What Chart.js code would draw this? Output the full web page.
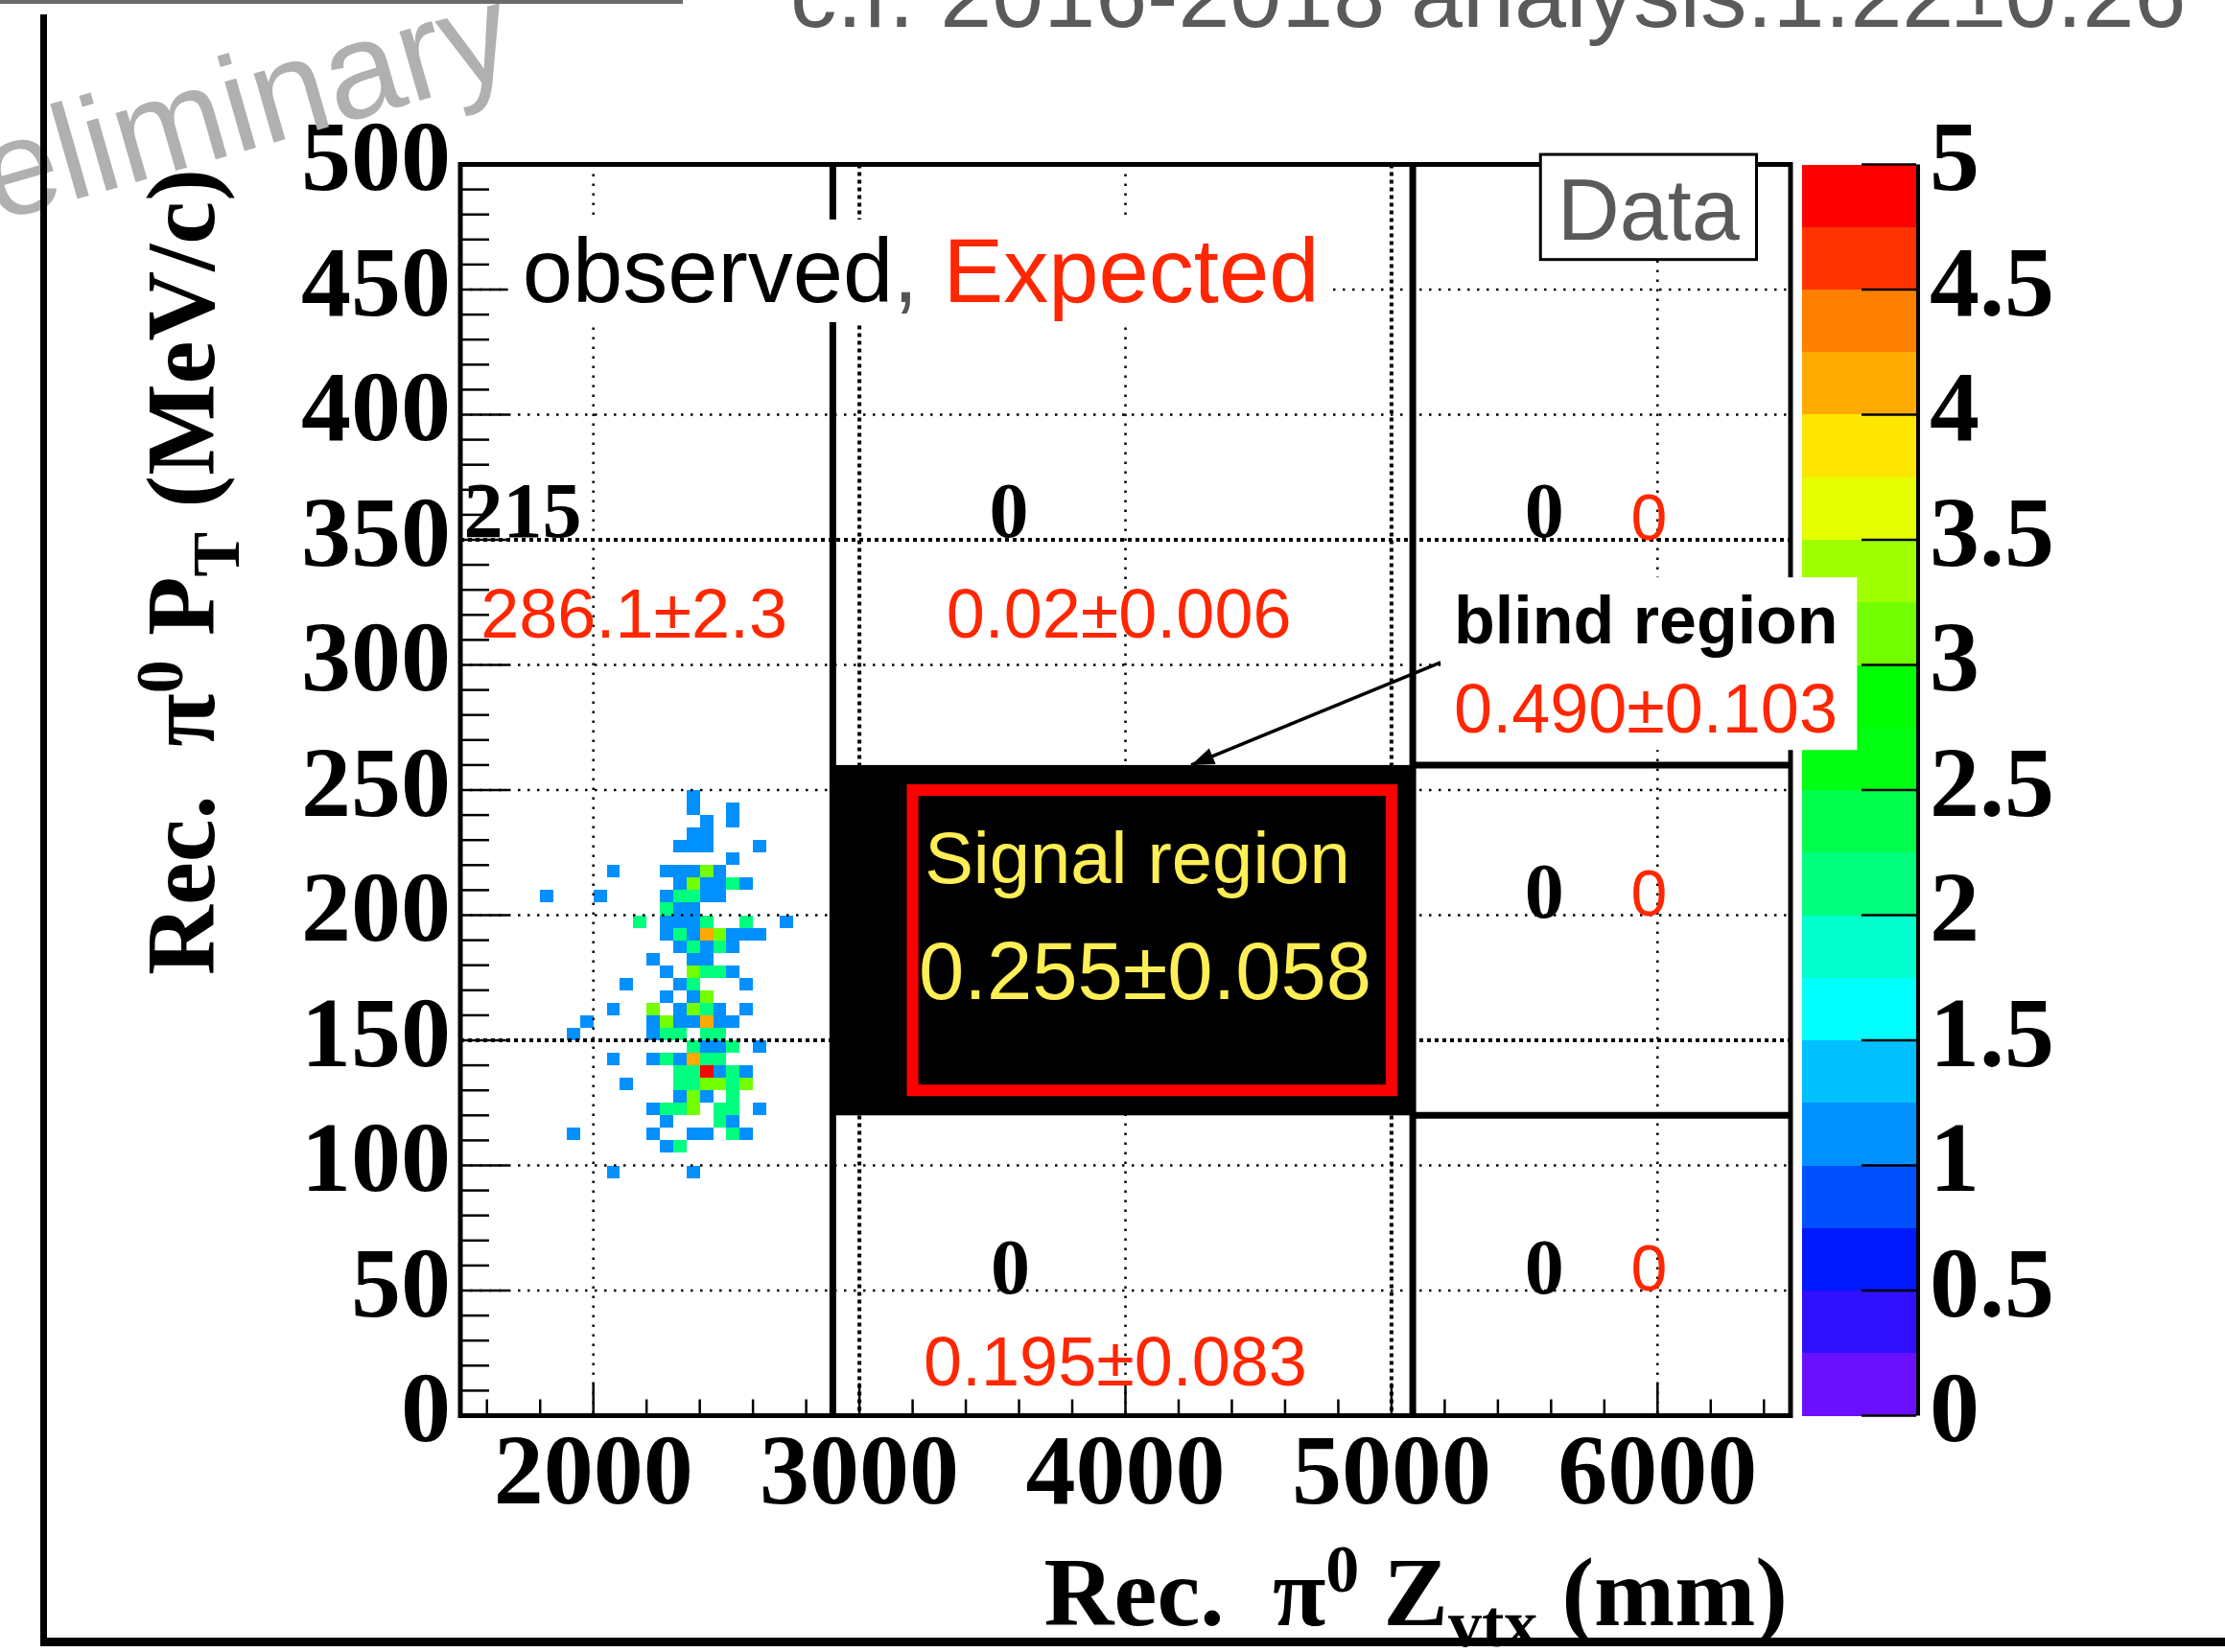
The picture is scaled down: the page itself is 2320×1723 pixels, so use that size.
<!DOCTYPE html>
<html>
<head>
<meta charset="utf-8">
<title>Rec. pi0 PT vs Zvtx</title>
<script src="https://cdn.jsdelivr.net/npm/chart.js@4.4.1/dist/chart.umd.min.js"></script>
<style>
  html, body { margin: 0; padding: 0; background: #fff; }
  canvas { display: block; }
</style>
</head>
<body>
<canvas id="ptZChart" width="2320" height="1723"></canvas>
<script>
// 2D histogram of data: one row per PT bin (lower edge, MeV/c),
// Z bins given by lower edge (mm), 50 mm x 5 MeV/c bins
const rowPt = [245, 240, 235, 230, 225, 220, 215, 210, 205, 200, 195, 190, 185, 180, 175,
               170, 165, 160, 155, 150, 145, 140, 135, 130, 125, 120, 115, 110, 105, 95];
const rowZ = [
    [2350],
    [2350, 2500],
    [2400, 2500],
    [2350, 2400],
    [2300, 2350, 2400, 2600],
    [2500],
    [2050, 2250, 2300, 2350, 2400, 2450],
    [2300, 2350, 2400, 2450, 2500, 2550],
    [1800, 2000, 2250, 2300, 2350, 2400, 2450],
    [2250, 2300, 2350],
    [2150, 2250, 2300, 2350, 2400, 2550, 2700],
    [2250, 2300, 2350, 2400, 2450, 2500, 2550, 2600],
    [2300, 2350, 2400, 2450, 2500],
    [2200, 2350, 2400],
    [2250, 2350, 2400, 2450, 2500],
    [2100, 2300, 2350, 2550],
    [2250, 2350, 2400],
    [2050, 2200, 2300, 2350, 2400, 2450, 2550],
    [1950, 2200, 2250, 2300, 2350, 2400, 2450, 2500],
    [1900, 2200, 2250, 2300, 2400, 2450],
    [2350, 2400, 2450, 2500, 2600],
    [2050, 2200, 2250, 2300, 2350, 2400, 2450],
    [2300, 2350, 2400, 2450, 2500, 2550],
    [2100, 2300, 2350, 2400, 2450, 2500, 2550],
    [2300, 2350, 2400, 2500],
    [2200, 2250, 2300, 2350, 2450, 2500, 2600],
    [2250, 2450, 2500],
    [1900, 2200, 2350, 2400, 2500, 2550],
    [2250, 2300],
    [2050, 2350]
];
const rowN = [
    [1],
    [1, 1],
    [1, 1],
    [1, 1],
    [1, 1, 1, 1],
    [1],
    [1, 1, 1, 1, 3, 1],
    [1, 3, 1, 1, 2, 1],
    [1, 1, 1, 2, 2, 1, 1],
    [2, 1, 1],
    [2, 1, 1, 1, 2, 2, 1],
    [1, 2, 1, 4, 3, 1, 1, 1],
    [1, 2, 1, 2, 1],
    [1, 1, 1],
    [1, 3, 2, 2, 1],
    [1, 1, 2, 1],
    [1, 1, 3],
    [1, 3, 1, 3, 2, 1, 1],
    [1, 1, 3, 1, 1, 4, 1, 1],
    [1, 1, 2, 2, 2, 2],
    [2, 1, 1, 2, 1],
    [1, 1, 2, 1, 4, 2, 2],
    [2, 2, 5, 1, 2, 1],
    [1, 2, 2, 3, 3, 2, 3],
    [1, 3, 1, 2],
    [1, 2, 2, 3, 2, 2, 1],
    [1, 2, 1],
    [1, 1, 1, 1, 2, 1],
    [1, 2],
    [1, 1]
];

const zTicks = [2000, 3000, 4000, 5000, 6000];
const ptTicks = [0, 50, 100, 150, 200, 250, 300, 350, 400, 450, 500];
const paletteTicks = [0, 0.5, 1, 1.5, 2, 2.5, 3, 3.5, 4, 4.5, 5];
// colour bands of the palette, from 0 up to 5
const paletteColors = ['#6a10ff', '#3010ff', '#0018ff', '#0050ff', '#0090ff', '#00c0ff', '#00ffff',
    '#00ffcc', '#00ff7f', '#00ff4c', '#00ff10', '#00ff00', '#73ff00', '#a0ff00', '#e6ff00',
    '#ffe600', '#ffaa00', '#ff7f00', '#ff3300', '#ff0000'];

// regions (Z in mm, PT in MeV/c)
const blindZ = [2900, 5080];
const blindPt = [120, 260];
const signalZ = [3200, 5000];
const signalPt = [130, 250];

const binW = 50, binH = 5;
const redText = '#ff2600';
const yellowText = '#ffee55';
const serifBold = '"Liberation Serif", "Times New Roman", serif';
const sans = '"Liberation Sans", Arial, sans-serif';

let cells = [];
rowPt.forEach((pt, r) => {
    rowZ[r].forEach((z, i) => {
        cells.push({x: z + binW / 2, y: pt + binH / 2, n: rowN[r][i]});
    });
});

const notes = [
    {text: '215', z: 1513, pt: 351, font: 'bold 82px ' + serifBold, color: '#000', align: 'left'},
    {text: '0', z: 3562, pt: 351, font: 'bold 82px ' + serifBold, color: '#000'},
    {text: '0', z: 5574, pt: 351, font: 'bold 82px ' + serifBold, color: '#000'},
    {text: '0', z: 5968, pt: 350, font: '68px ' + sans, color: redText},
    {text: '286.1±2.3', z: 2153, pt: 311, font: '72px ' + sans, color: redText},
    {text: '0.02±0.006', z: 3975, pt: 311, font: '72px ' + sans, color: redText},
    {text: '0', z: 5574, pt: 199, font: 'bold 82px ' + serifBold, color: '#000'},
    {text: '0', z: 5968, pt: 200, font: '68px ' + sans, color: redText},
    {text: '0', z: 3567, pt: 49, font: 'bold 82px ' + serifBold, color: '#000'},
    {text: '0', z: 5574, pt: 49, font: 'bold 82px ' + serifBold, color: '#000'},
    {text: '0', z: 5968, pt: 50, font: '68px ' + sans, color: redText},
    {text: '0.195±0.083', z: 3962, pt: 12, font: '72px ' + sans, color: redText},
    {text: 'Signal region', z: 4045, pt: 213, font: '76px ' + sans, color: yellowText},
    {text: '0.255±0.058', z: 4074, pt: 166.5, font: '85px ' + sans, color: yellowText}
];

function bandColor(n) {
    const i = Math.min(paletteColors.length - 1, Math.floor(n / (5 / paletteColors.length)));
    return paletteColors[i];
}

function line(ctx, x0, y0, x1, y1) {
    ctx.beginPath();
    ctx.moveTo(x0, y0);
    ctx.lineTo(x1, y1);
    ctx.stroke();
}

// draws text pieces one after another, with optional baseline shifts
function drawRich(ctx, parts, x, y, align) {
    let total = 0;
    parts.forEach(p => {
        ctx.font = p.font;
        p.w = ctx.measureText(p.t).width;
        total += p.w;
    });
    let cx = align === 'right' ? x - total : x;
    ctx.textAlign = 'left';
    ctx.textBaseline = 'alphabetic';
    parts.forEach(p => {
        ctx.font = p.font;
        ctx.fillText(p.t, cx, y + (p.dy || 0));
        cx += p.w;
    });
}

const rootStyle = {
    id: 'rootStyle',
    beforeDatasetsDraw(chart) {
        const {ctx, chartArea: a, scales} = chart;
        const X = v => scales.x.getPixelForValue(v);
        const Y = v => scales.y.getPixelForValue(v);
        ctx.save();

        // histogram cells
        chart.data.datasets[0].data.forEach(p => {
            const x0 = Math.round(X(p.x - binW / 2)), x1 = Math.round(X(p.x + binW / 2));
            const y0 = Math.round(Y(p.y + binH / 2)), y1 = Math.round(Y(p.y - binH / 2));
            ctx.fillStyle = bandColor(p.n);
            ctx.fillRect(x0, y0, x1 - x0, y1 - y0);
        });

        // dotted grid
        ctx.strokeStyle = '#000';
        const heavy = v => v === 3000 || v === 5000 || v === 150 || v === 350;
        zTicks.forEach(v => {
            ctx.lineWidth = heavy(v) ? 4 : 2.5;
            ctx.setLineDash(heavy(v) ? [4, 4] : [2.5, 7.5]);
            line(ctx, X(v), a.top, X(v), a.bottom);
        });
        ptTicks.filter(v => v > 0 && v < 500).forEach(v => {
            ctx.lineWidth = heavy(v) ? 4 : 2.5;
            ctx.setLineDash(heavy(v) ? [4, 4] : [2.5, 7.5]);
            line(ctx, a.left, Y(v), a.right, Y(v));
        });
        ctx.setLineDash([]);

        // blind region and signal box
        ctx.fillStyle = '#000';
        ctx.fillRect(X(blindZ[0]), Y(blindPt[1]), X(blindZ[1]) - X(blindZ[0]), Y(blindPt[0]) - Y(blindPt[1]));
        ctx.strokeStyle = '#ff0000';
        ctx.lineWidth = 12;
        ctx.strokeRect(X(signalZ[0]), Y(signalPt[1]), X(signalZ[1]) - X(signalZ[0]), Y(signalPt[0]) - Y(signalPt[1]));

        // region boundaries
        ctx.strokeStyle = '#000';
        ctx.lineWidth = 7;
        line(ctx, X(blindZ[0]), a.top, X(blindZ[0]), a.bottom);
        line(ctx, X(blindZ[1]), a.top, X(blindZ[1]), a.bottom);
        line(ctx, X(blindZ[1]), Y(blindPt[1]), a.right, Y(blindPt[1]));
        line(ctx, X(blindZ[1]), Y(blindPt[0]), a.right, Y(blindPt[0]));

        // frame and inward ticks
        ctx.lineWidth = 5;
        ctx.strokeRect(a.left, a.top, a.right - a.left, a.bottom - a.top);
        ctx.lineWidth = 2.5;
        for (let v = 10; v < 500; v += 10) {
            line(ctx, a.left, Y(v), a.left + (v % 50 === 0 ? 50 : 30), Y(v));
        }
        for (let v = 1600; v < 6500; v += 200) {
            line(ctx, X(v), a.bottom, X(v), a.bottom - (v % 1000 === 0 ? 34 : 17));
        }
        ctx.restore();
    },
    afterDatasetsDraw(chart) {
        const {ctx, chartArea: a, scales} = chart;
        const X = v => scales.x.getPixelForValue(v);
        const Y = v => scales.y.getPixelForValue(v);
        const Zc = v => scales.z.getPixelForValue(v);
        ctx.save();

        // palette
        const barL = a.right + 12, barR = a.right + 131;
        const step = 5 / paletteColors.length;
        paletteColors.forEach((c, i) => {
            const t = Math.round(Zc((i + 1) * step)), b = Math.round(Zc(i * step));
            ctx.fillStyle = c;
            ctx.fillRect(barL, t, barR - barL, b - t);
        });
        ctx.strokeStyle = '#000';
        ctx.lineWidth = 2.5;
        paletteTicks.forEach(v => line(ctx, barR - 57, Zc(v), barR, Zc(v)));
        ctx.lineWidth = 4;
        line(ctx, barR + 2, Zc(5), barR + 2, Zc(0));

        // numbers in each region
        ctx.textBaseline = 'alphabetic';
        notes.forEach(n => {
            ctx.font = n.font;
            ctx.fillStyle = n.color;
            ctx.textAlign = n.align || 'center';
            ctx.fillText(n.text, X(n.z), Y(n.pt));
        });

        // legend text "observed, Expected"
        ctx.fillStyle = '#fff';
        ctx.fillRect(X(1679), Y(478), X(4770) - X(1679), Y(437) - Y(478));
        ctx.textAlign = 'left';
        ctx.font = '94px ' + sans;
        const w1 = ctx.measureText('observed').width;
        const w2 = ctx.measureText(', ').width;
        ctx.fillStyle = '#000';
        ctx.fillText('observed', X(1733), Y(445));
        ctx.fillStyle = '#555';
        ctx.fillText(', ', X(1733) + w1, Y(445));
        ctx.fillStyle = redText;
        ctx.fillText('Expected', X(1733) + w1 + w2, Y(445));

        // "Data" box
        ctx.fillStyle = '#fff';
        ctx.fillRect(X(5560), Y(504), X(6372) - X(5560), Y(462) - Y(504));
        ctx.strokeStyle = '#000';
        ctx.lineWidth = 3;
        ctx.strokeRect(X(5560), Y(504), X(6372) - X(5560), Y(462) - Y(504));
        ctx.fillStyle = '#5a5a5a';
        ctx.font = '90px ' + sans;
        ctx.textAlign = 'center';
        ctx.fillText('Data', X(5966), Y(470));

        // arrow to the blind region
        const ax0 = X(5185), ay0 = Y(301), ax1 = X(4247), ay1 = Y(260);
        ctx.strokeStyle = '#000';
        ctx.lineWidth = 3.5;
        line(ctx, ax0, ay0, ax1, ay1);
        const ang = Math.atan2(ay1 - ay0, ax1 - ax0);
        ctx.fillStyle = '#000';
        ctx.beginPath();
        ctx.moveTo(ax1, ay1);
        ctx.lineTo(ax1 - 24 * Math.cos(ang) + 9 * Math.sin(ang), ay1 - 24 * Math.sin(ang) - 9 * Math.cos(ang));
        ctx.lineTo(ax1 - 24 * Math.cos(ang) - 9 * Math.sin(ang), ay1 - 24 * Math.sin(ang) + 9 * Math.cos(ang));
        ctx.closePath();
        ctx.fill();

        // blind region label
        ctx.fillStyle = '#fff';
        ctx.fillRect(X(5185), Y(335), X(6750) - X(5185), Y(266) - Y(335));
        ctx.textAlign = 'left';
        ctx.fillStyle = '#000';
        ctx.font = 'bold 70px ' + sans;
        ctx.fillText('blind region', X(5235), Y(308.6));
        ctx.fillStyle = redText;
        ctx.font = '72px ' + sans;
        ctx.fillText('0.490±0.103', X(5235), Y(273));
        ctx.restore();
    },
    afterDraw(chart) {
        const {ctx, chartArea: a} = chart;
        ctx.save();
        ctx.fillStyle = '#000';
        const big = 'bold 101px ' + serifBold, small = 'bold 70px ' + serifBold;

        // x title
        drawRich(ctx, [
            {t: 'Rec.', font: big}, {t: '  ', font: big}, {t: 'π', font: big},
            {t: '0', font: small, dy: -35}, {t: ' ', font: big}, {t: 'Z', font: big},
            {t: 'vtx', font: small, dy: 22}, {t: ' ', font: big}, {t: '(mm)', font: big}
        ], a.right - 3, 1695, 'right');

        // y title
        ctx.save();
        ctx.translate(223, 1017);
        ctx.rotate(-Math.PI / 2);
        drawRich(ctx, [
            {t: 'Rec.', font: big}, {t: '  ', font: big}, {t: 'π', font: big},
            {t: '0', font: small, dy: -33}, {t: ' ', font: big}, {t: 'P', font: big},
            {t: 'T', font: small, dy: 26}, {t: ' ', font: big}, {t: '(MeV/c)', font: big}
        ], 0, 0);
        ctx.restore();

        // watermark and slide decorations
        ctx.save();
        ctx.translate(-141, 271);
        ctx.rotate(-16 * Math.PI / 180);
        ctx.fillStyle = '#b0b0b0';
        ctx.font = '142px ' + sans;
        ctx.textAlign = 'left';
        ctx.fillText('Preliminary', 0, 0);
        ctx.restore();

        ctx.fillStyle = '#5a5a5a';
        ctx.font = '97px ' + sans;
        ctx.textAlign = 'left';
        ctx.fillText('c.f. 2016-2018 analysis:1.22±0.26', 824, 28);

        ctx.fillStyle = '#6b6b6b';
        ctx.fillRect(0, 0, 712, 4);
        ctx.fillStyle = '#000';
        ctx.fillRect(42, 15, 7, 1702);
        ctx.fillRect(42, 1708, 2278, 9);
        ctx.restore();
    }
};

const tickFont = {family: 'Liberation Serif', weight: 'bold', size: 104};

const ctx = document.getElementById('ptZChart').getContext('2d');
window.ptZChart = new Chart(ctx, {
    type: 'scatter',
    data: {
        datasets: [{
            label: 'Data',
            data: cells,
            pointRadius: 0,
            pointHoverRadius: 0
        }]
    },
    options: {
        responsive: false,
        animation: false,
        devicePixelRatio: 1,
        events: [],
        layout: {padding: {top: 171.5, left: 0, right: 0, bottom: 0}},
        plugins: {
            legend: {display: false},
            tooltip: {enabled: false}
        },
        scales: {
            x: {
                type: 'linear',
                position: 'bottom',
                min: 1500,
                max: 6500,
                afterBuildTicks: s => { s.ticks = zTicks.map(v => ({value: v})); },
                afterFit: s => { s.height = 246.5; },
                grid: {display: false, drawTicks: false},
                border: {display: false},
                ticks: {autoSkip: false, maxRotation: 0, padding: 2, color: '#000', font: tickFont,
                        callback: v => String(v)}
            },
            y: {
                type: 'linear',
                position: 'left',
                min: 0,
                max: 500,
                afterBuildTicks: s => { s.ticks = ptTicks.map(v => ({value: v})); },
                afterFit: s => { s.width = 480; },
                grid: {display: false, drawTicks: false},
                border: {display: false},
                ticks: {autoSkip: false, padding: 10, color: '#000', font: tickFont,
                        callback: v => String(v)}
            },
            z: {
                type: 'linear',
                position: 'right',
                min: 0,
                max: 5,
                afterBuildTicks: s => { s.ticks = paletteTicks.map(v => ({value: v})); },
                afterFit: s => { s.width = 453; },
                // the long (invisible) tick length keeps the labels right of the palette
                grid: {display: false, drawTicks: true, tickLength: 145},
                border: {display: false},
                ticks: {autoSkip: false, padding: 0, color: '#000', font: tickFont,
                        callback: v => String(v)}
            }
        }
    },
    plugins: [rootStyle]
});
</script>
</body>
</html>
